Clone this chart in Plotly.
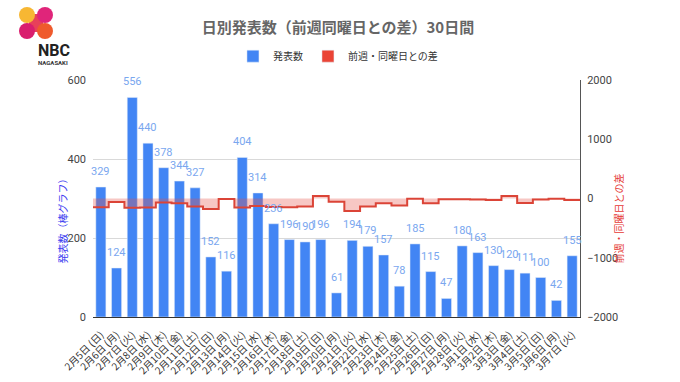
import plotly.graph_objects as go

dates = ["2月5日", "2月6日", "2月7日", "2月8日", "2月9日", "2月10日", "2月11日",
         "2月12日", "2月13日", "2月14日", "2月15日", "2月16日", "2月17日", "2月18日",
         "2月19日", "2月20日", "2月21日", "2月22日", "2月23日", "2月24日", "2月25日",
         "2月26日", "2月27日", "2月28日", "3月1日", "3月2日", "3月3日", "3月4日",
         "3月5日", "3月6日", "3月7日"]
weekdays = ["日", "月", "火", "水", "木", "金", "土"] * 4 + ["日", "月", "火"]
counts = [329, 124, 556, 440, 378, 344, 327, 152, 116, 404, 314, 236, 196, 190,
          196, 61, 194, 179, 157, 78, 185, 115, 47, 180, 163, 130, 120, 111, 100, 42, 155]
diffs = [-146, -57, -156, -152, -67, -79, -135, -177, -8, -152, -126, -142, -148, -137,
         44, -55, -210, -135, -79, -118, -5, -81, -14, -14, -16, -27, 42, -74, -15, -5, -25]

labels = [f"{d} ({w})" for d, w in zip(dates, weekdays)]
idx = list(range(len(counts)))

FONT = "Noto Sans CJK JP"
L, R, T, B = 93, 100, 80, 65
PW, PH = 680 - L - R, 382 - T - B


def px(x):
    return (x - L) / PW


def py(y):
    return (382 - B - y) / PH


# step positions for stepped area (each value spans its full category width)
step_x = [i - 0.5 for i in idx] + [idx[-1] + 0.5]
step_y = diffs + [diffs[-1]]

fig = go.Figure()
fig.add_trace(go.Scatter(
    x=step_x, y=step_y, yaxis="y2", mode="lines", line_shape="hv",
    line=dict(color="#db4437", width=2), fill="tozeroy",
    fillcolor="rgba(230,80,70,0.32)", showlegend=False, hoverinfo="skip"))
fig.add_trace(go.Bar(
    x=idx, y=counts, name="発表数", marker_color="#4285f4"))
fig.add_trace(go.Bar(x=[None], y=[None], name="前週・同曜日との差",
                     marker_color="#ea4335", yaxis="y2"))

# value labels above bars
for i, c in zip(idx, counts):
    fig.add_annotation(x=i, y=c, xref="x", yref="y", text=str(c), showarrow=False,
                       yanchor="bottom", yshift=7,
                       font=dict(color="#7aa7ef", size=11, family="Roboto"))

fig.update_layout(
    width=680, height=382,
    margin=dict(l=L, r=R, t=T, b=B, autoexpand=False),
    paper_bgcolor="white", plot_bgcolor="white",
    barmode="overlay", bargap=0.36,
    font=dict(family=FONT, color="#444"),
    title=dict(text="<b>日別発表数（前週同曜日との差）30日間</b>", x=0.497, xanchor="center",
               y=0.928, yanchor="middle",
               font=dict(size=15, color="#666", family=FONT)),
    legend=dict(orientation="h", x=0.503, xanchor="center", y=0.853, yanchor="middle",
                yref="container", font=dict(size=10, color="#333", family=FONT),
                itemwidth=30, traceorder="normal"),
    xaxis=dict(range=[-0.5, len(counts) - 0.5], tickmode="array", tickvals=idx,
               ticktext=labels, tickangle=-45, tickfont=dict(size=10, color="#333"),
               showline=True, linecolor="#333", linewidth=1, showgrid=False,
               ticks="", zeroline=False, automargin=False, ticklabelstandoff=7),
    yaxis=dict(range=[0, 600], dtick=200, showgrid=True, gridcolor="#d9d9d9",
               tickfont=dict(size=11, color="#444", family="Roboto"), zeroline=False,
               ticks="", ticklabelstandoff=6, automargin=False),
    yaxis2=dict(range=[-2000, 2000], dtick=1000, overlaying="y", side="right",
                showgrid=False, zeroline=False, showline=True, linecolor="#555",
                linewidth=1, tickfont=dict(size=11, color="#444", family="Roboto"),
                ticks="", ticklabelstandoff=4, automargin=False),
)

# axis titles
fig.add_annotation(text="発表数（棒グラフ）", xref="paper", yref="paper",
                   x=px(52), y=py(219), textangle=-90, showarrow=False,
                   font=dict(size=10, color="#3c3cf0", family=FONT))
fig.add_annotation(text="前週・同曜日との差", xref="paper", yref="paper",
                   x=px(627), y=py(219), textangle=-90, showarrow=False,
                   font=dict(size=10, color="#e53935", family=FONT))

# logo
fig.add_shape(type="rect", xref="paper", yref="paper",
              x0=px(29), x1=px(43), y0=py(32), y1=py(14),
              fillcolor="#e8405a", line_width=0, layer="above")
circles = [(27, 15, "#f7b733"), (45, 15, "#e0257a"), (27, 31, "#d91e6e"), (45, 31, "#ef5a2c")]
for cx, cy, col in circles:
    fig.add_shape(type="circle", xref="paper", yref="paper",
                  x0=px(cx - 8), x1=px(cx + 8), y0=py(cy + 8), y1=py(cy - 8),
                  fillcolor=col, line_width=0, layer="above")
fig.add_annotation(text="<b>NBC</b>", xref="paper", yref="paper",
                   x=px(36), y=py(50), yanchor="middle", showarrow=False,
                   font=dict(size=16, color="#222", family="Roboto"))
fig.add_annotation(text="<b>NAGASAKI</b>", xref="paper", yref="paper",
                   x=px(36), y=py(62), yanchor="middle", showarrow=False,
                   font=dict(size=6, color="#333", family="Roboto"))

fig.write_html("out.html", config={"displayModeBar": False},
               post_script="document.body.style.margin='0';document.body.style.padding='0';")
